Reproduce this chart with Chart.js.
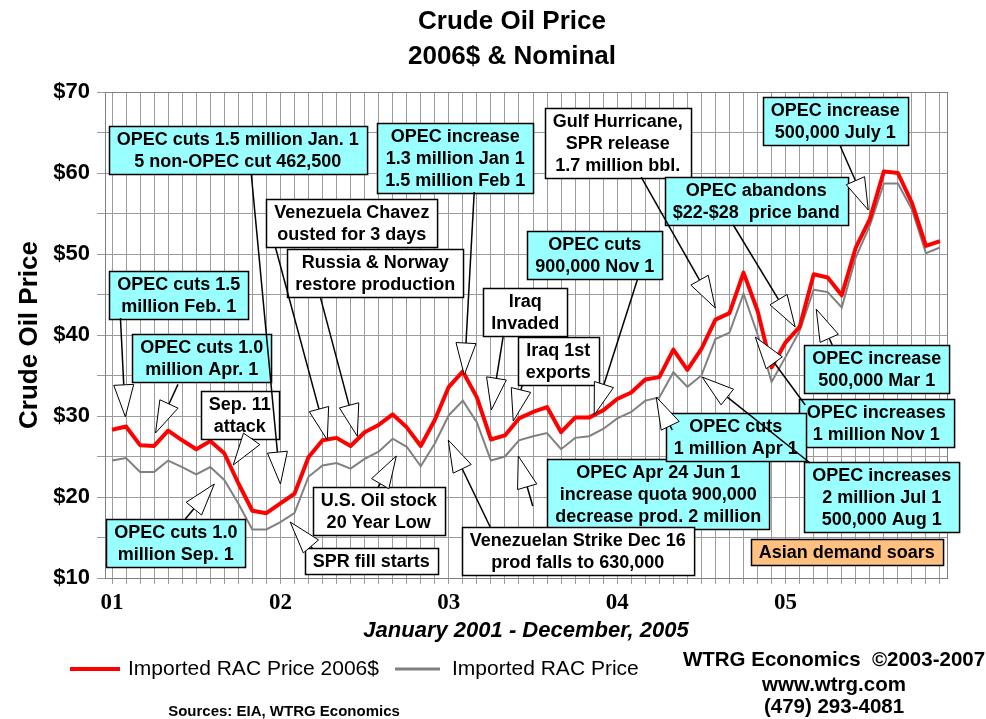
<!DOCTYPE html>
<html lang="en">
<head>
<meta charset="UTF-8">
<title>Crude Oil Price - 2006$ &amp; Nominal</title>
<style>
  body { margin: 0; background: #fff; }
  canvas { display: block; }
</style>
</head>
<body>
<canvas id="oilChart" width="986" height="719"></canvas>
<script src="https://cdn.jsdelivr.net/npm/chart.js"></script>
<script>
// months Jan 2001 - Dec 2005
const years = ['01', '02', '03', '04', '05'];
const monthNames = ['Jan', 'Feb', 'Mar', 'Apr', 'May', 'Jun', 'Jul', 'Aug', 'Sep', 'Oct', 'Nov', 'Dec'];

// Imported RAC price, 2006 dollars
const realPrice = [
  28.3, 28.7, 26.4, 26.3, 28.2, 27.0, 25.9, 26.9, 25.4, 21.7, 18.3, 18.0,
  19.2, 20.4, 24.9, 27.0, 27.3, 26.3, 28.0, 28.9, 30.2, 28.6, 26.3, 29.5,
  33.6, 35.5, 32.3, 27.1, 27.6, 29.7, 30.5, 31.1, 28.0, 29.8, 29.8, 30.7,
  32.1, 32.9, 34.5, 34.8, 38.2, 35.7, 38.3, 41.9, 42.7, 47.7, 43.0, 36.0,
  39.1, 41.0, 47.5, 47.1, 44.9, 50.8, 54.3, 60.2, 60.0, 56.3, 51.0, 51.6
];
// Imported RAC price, nominal
const nominalPrice = [
  24.5, 24.8, 23.1, 23.1, 24.5, 23.7, 22.8, 23.7, 22.1, 19.2, 16.0, 16.0,
  16.9, 18.0, 22.5, 23.9, 24.2, 23.5, 24.7, 25.6, 27.2, 26.2, 23.8, 26.6,
  30.1, 31.9, 29.2, 24.5, 25.0, 27.0, 27.5, 27.9, 25.9, 27.3, 27.5, 28.4,
  29.7, 30.5, 31.9, 32.3, 35.4, 33.6, 35.0, 39.5, 40.3, 45.1, 40.1, 34.2,
  37.3, 40.5, 45.6, 45.3, 43.4, 49.6, 53.5, 58.7, 58.7, 55.5, 50.1, 50.8
];

const categories = [];
years.forEach(yr => monthNames.forEach(m => categories.push(m + ' ' + yr)));

const CYAN = '#99ffff', WHITE = '#ffffff', PEACH = '#ffc080';
const SANS = 'Arial, "Liberation Sans", sans-serif';

// event notes: box centre and arrows in chart units (month index, $)
const notes = [
  { text: ['OPEC cuts 1.5 million Jan. 1', '5 non-OPEC cut 462,500'], fill: CYAN, at: [8.96, 62.8],
    arrows: [[[9.93, 59.75], [12.0, 21.6]]] },
  { text: ['OPEC cuts 1.5', 'million Feb. 1'], fill: CYAN, at: [4.76, 44.9],
    arrows: [[[0.6, 42.1], [0.95, 29.9]]] },
  { text: ['OPEC cuts 1.0', 'million Apr. 1'], fill: CYAN, at: [6.4, 37.2],
    arrows: [[[4.7, 33.9], [3.1, 27.9]]] },
  { text: ['Sep. 11', 'attack'], fill: WHITE, at: [9.1, 30.1],
    arrows: [[[10.0, 27.3], [8.64, 23.95]]] },
  { text: ['OPEC cuts 1.0', 'million Sep. 1'], fill: CYAN, at: [4.55, 14.26],
    arrows: [[[5.22, 17.28], [7.29, 21.6]]] },
  { text: ['Venezuela Chavez', 'ousted for 3 days'], fill: WHITE, at: [17.09, 53.77],
    arrows: [[[11.64, 50.86], [15.34, 27.04]]] },
  { text: ['Russia & Norway', 'restore production'], fill: WHITE, at: [18.76, 47.6],
    arrows: [[[14.84, 44.7], [17.48, 27.5]]] },
  { text: ['OPEC increase', '1.3 million Jan 1', '1.5 million Feb 1'], fill: CYAN, at: [24.46, 61.9],
    arrows: [[[25.81, 57.65], [25.1, 35.06]]] },
  { text: ['Iraq', 'Invaded'], fill: WHITE, at: [29.45, 42.78],
    arrows: [[[27.88, 39.88], [27.03, 30.74]]] },
  { text: ['Iraq 1st', 'exports'], fill: WHITE, at: [31.8, 36.73],
    arrows: [[[29.23, 33.83], [28.59, 29.38]]] },
  { text: ['OPEC cuts', '900,000 Nov 1'], fill: CYAN, at: [34.4, 49.88],
    arrows: [[[37.43, 46.79], [34.36, 30.12]]] },
  { text: ['Gulf Hurricane,', 'SPR release', '1.7 million bbl.'], fill: WHITE, at: [36.04, 63.7],
    arrows: [[[37.71, 59.5], [42.99, 43.33]]] },
  { text: ['OPEC increase', '500,000 July 1'], fill: CYAN, at: [51.54, 66.42],
    arrows: [[[51.89, 63.33], [53.89, 55.43]]] },
  { text: ['OPEC abandons', '$22-$28  price band'], fill: CYAN, at: [45.91, 56.54],
    arrows: [[[44.27, 53.58], [48.68, 40.99]]] },
  { text: ['OPEC increase', '500,000 Mar 1'], fill: CYAN, at: [54.49, 35.86],
    arrows: [[[51.32, 38.77], [50.18, 43.2]]] },
  { text: ['OPEC Apr 24 Jun 1', 'increase quota 900,000', 'decrease prod. 2 million'], fill: CYAN, at: [38.92, 20.31],
    arrows: [[[29.98, 18.89], [28.95, 25.06]]] },
  { text: ['OPEC increases', '1 million Nov 1'], fill: CYAN, at: [54.46, 29.14],
    arrows: [[[49.4, 31.36], [45.84, 39.75]]] },
  { text: ['OPEC cuts', '1 million Apr 1'], fill: CYAN, at: [44.45, 27.35],
    arrows: [[[39.92, 28.27], [38.78, 32.35]]] },
  { text: ['OPEC increases', '2 million Jul 1', '500,000 Aug 1'], fill: CYAN, at: [54.85, 20.06],
    arrows: [[[49.75, 24.2], [42.06, 34.8]]] },
  { text: ['Venezuelan Strike Dec 16', 'prod falls to 630,000'], fill: WHITE, at: [33.19, 13.33],
    arrows: [[[26.95, 16.3], [23.96, 27.04]]] },
  { text: ['U.S. Oil stock', '20 Year Low'], fill: WHITE, at: [19.0, 18.21],
    arrows: [[[18.97, 21.23], [20.26, 25.06]]] },
  { text: ['SPR fill starts'], fill: WHITE, at: [18.48, 12.1],
    arrows: [[[14.27, 13.7], [12.7, 16.91]]] },
  { text: ['Asian demand soars'], fill: PEACH, at: [52.36, 13.27], arrows: [] }
];

function drawArrow(ctx, fx, fy, tx, ty) {
  const dx = tx - fx, dy = ty - fy, len = Math.hypot(dx, dy);
  const ux = dx / len, uy = dy / len;
  const headLen = 32, half = 10;
  const bx = tx - ux * headLen, by = ty - uy * headLen;
  ctx.strokeStyle = '#000';
  ctx.lineWidth = 1.5;
  ctx.beginPath();
  ctx.moveTo(fx, fy);
  ctx.lineTo(bx, by);
  ctx.stroke();
  ctx.lineWidth = 1;
  ctx.beginPath();
  ctx.moveTo(tx, ty);
  ctx.lineTo(bx - uy * half, by + ux * half);
  ctx.lineTo(bx + uy * half, by - ux * half);
  ctx.closePath();
  ctx.fillStyle = '#fff';
  ctx.fill();
  ctx.stroke();
}

function drawBox(ctx, cx, cy, lines, fill) {
  ctx.font = 'bold 18px ' + SANS;
  const lh = 22;
  const w = Math.max(...lines.map(l => ctx.measureText(l).width)) + 16;
  const h = lines.length * lh + 4;
  const left = Math.round(cx - w / 2) + 0.5, top = Math.round(cy - h / 2) + 0.5;
  ctx.fillStyle = fill;
  ctx.fillRect(left, top, w, h);
  ctx.strokeStyle = '#000';
  ctx.lineWidth = 1.5;
  ctx.strokeRect(left, top, w, h);
  ctx.fillStyle = '#000';
  ctx.textAlign = 'center';
  ctx.textBaseline = 'middle';
  lines.forEach((l, k) => ctx.fillText(l, cx, top + 3 + lh * (k + 0.5)));
}

const framePlugin = {
  id: 'frame',
  beforeDatasetsDraw(chart) {
    const { ctx, chartArea: a } = chart;
    ctx.save();
    ctx.strokeStyle = '#808080';
    ctx.lineWidth = 1;
    ctx.strokeRect(a.left + 0.5, a.top + 0.5, a.right - a.left, a.bottom - a.top);
    ctx.restore();
  }
};

const notesPlugin = {
  id: 'notes',
  afterDatasetsDraw(chart) {
    const { ctx, scales: { x, y } } = chart;
    ctx.save();
    notes.forEach(n => drawBox(ctx, x.getPixelForValue(n.at[0]), y.getPixelForValue(n.at[1]), n.text, n.fill));
    notes.forEach(n => n.arrows.forEach(([from, tip]) => drawArrow(ctx,
      x.getPixelForValue(from[0]), y.getPixelForValue(from[1]),
      x.getPixelForValue(tip[0]), y.getPixelForValue(tip[1]))));
    ctx.restore();
  }
};

const textPlugin = {
  id: 'texts',
  afterDraw(chart) {
    const { ctx } = chart;
    const ds = chart.data.datasets;
    ctx.save();
    ctx.fillStyle = '#000';
    ctx.textBaseline = 'middle';
    ctx.textAlign = 'center';
    ctx.font = 'bold 26px ' + SANS;
    ctx.fillText('Crude Oil Price', 512, 22);
    ctx.fillText('2006$ & Nominal', 512, 57);

    ctx.font = 'italic bold 22px ' + SANS;
    ctx.fillText('January 2001 - December, 2005', 526, 631);

    // legend
    ctx.textAlign = 'left';
    ctx.font = '21px ' + SANS;
    const legend = [[70, 120, 128], [395, 440, 452]];
    ds.forEach((d, k) => {
      const [x0, x1, tx] = legend[k];
      ctx.strokeStyle = d.borderColor;
      ctx.lineWidth = k === 0 ? 4 : 3;
      ctx.beginPath();
      ctx.moveTo(x0, 669);
      ctx.lineTo(x1, 669);
      ctx.stroke();
      ctx.fillText(d.label, tx, 669);
    });

    ctx.textAlign = 'center';
    ctx.font = 'bold 20.5px ' + SANS;
    ctx.fillText('WTRG Economics  \u00a92003-2007', 834, 660);
    ctx.fillText('www.wtrg.com', 834, 685);
    ctx.fillText('(479) 293-4081', 834, 707);
    ctx.font = 'bold 15px ' + SANS;
    ctx.fillText('Sources: EIA, WTRG Economics', 284, 712);
    ctx.restore();
  }
};

const gridColor = '#9c9c9c';

new Chart(document.getElementById('oilChart'), {
  type: 'line',
  data: {
    labels: categories,
    datasets: [
      { label: 'Imported RAC Price 2006$', data: realPrice, borderColor: '#ff0000', borderWidth: 4,
        pointRadius: 0, tension: 0, borderJoinStyle: 'round' },
      { label: 'Imported RAC Price', data: nominalPrice, borderColor: '#808080', borderWidth: 2,
        pointRadius: 0, tension: 0 }
    ]
  },
  options: {
    responsive: false,
    animation: false,
    devicePixelRatio: 1,
    layout: { padding: { top: 92, right: 39, left: 0, bottom: 107 } },
    plugins: { legend: { display: false }, title: { display: false }, tooltip: { enabled: false } },
    scales: {
      x: {
        type: 'category',
        offset: true,
        grid: { offset: false, color: gridColor, tickLength: 6 },
        border: { color: '#808080' },
        ticks: {
          autoSkip: false, maxRotation: 0, padding: 5, color: '#000',
          font: { family: '"Liberation Serif", "Times New Roman", serif', size: 23, weight: 'bold' },
          callback: (v, i) => (i % 12 === 0 ? years[i / 12] : '')
        },
        afterFit: s => { s.height = 34; }
      },
      y: {
        min: 10, max: 70,
        grid: { color: gridColor, tickLength: 8 },
        border: { color: '#808080' },
        ticks: {
          stepSize: 5, padding: 7, color: '#000',
          font: { family: SANS, size: 22, weight: 'bold' },
          callback: v => (v % 10 === 0 ? '$' + v : '')
        },
        title: {
          display: true, text: 'Crude Oil Price', color: '#000',
          font: { family: SANS, size: 26, weight: 'bold' },
          padding: { top: 14, bottom: 0 }
        },
        afterFit: s => { s.width = 105; }
      }
    }
  },
  plugins: [framePlugin, notesPlugin, textPlugin]
});
</script>
</body>
</html>
